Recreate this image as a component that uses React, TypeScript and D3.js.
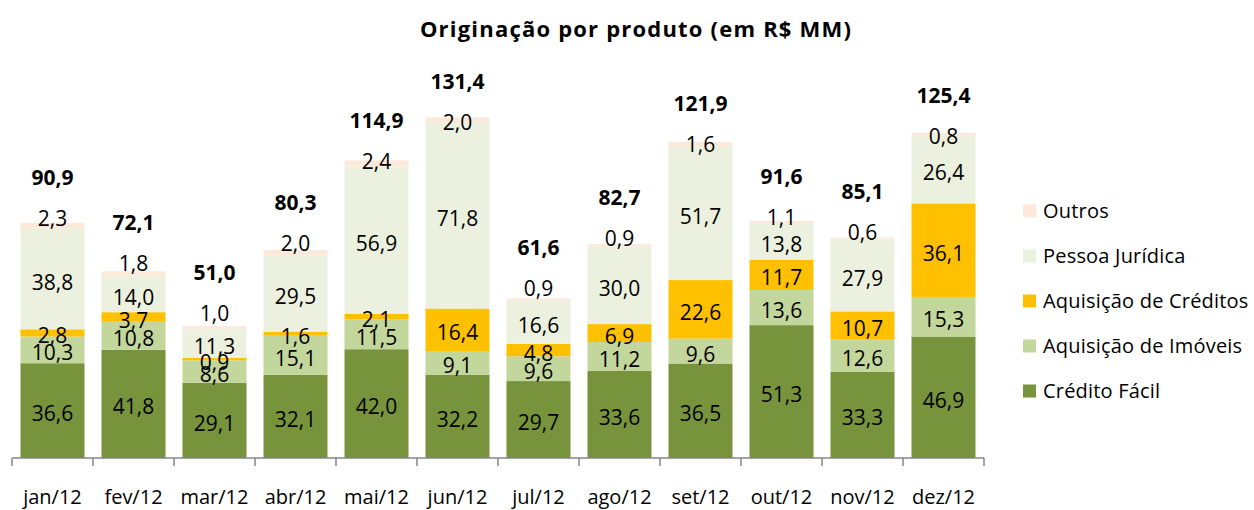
import React from 'react';
import * as d3 from 'd3';

// data
const months = ['jan/12', 'fev/12', 'mar/12', 'abr/12', 'mai/12', 'jun/12', 'jul/12', 'ago/12', 'set/12', 'out/12', 'nov/12', 'dez/12'];
const creditoFacil = [36.6, 41.8, 29.1, 32.1, 42.0, 32.2, 29.7, 33.6, 36.5, 51.3, 33.3, 46.9];
const aquisicaoImoveis = [10.3, 10.8, 8.6, 15.1, 11.5, 9.1, 9.6, 11.2, 9.6, 13.6, 12.6, 15.3];
const aquisicaoCreditos = [2.8, 3.7, 0.9, 1.6, 2.1, 16.4, 4.8, 6.9, 22.6, 11.7, 10.7, 36.1];
const pessoaJuridica = [38.8, 14.0, 11.3, 29.5, 56.9, 71.8, 16.6, 30.0, 51.7, 13.8, 27.9, 26.4];
const outros = [2.3, 1.8, 1.0, 2.0, 2.4, 2.0, 0.9, 0.9, 1.6, 1.1, 0.6, 0.8];
const totals = [90.9, 72.1, 51.0, 80.3, 114.9, 131.4, 61.6, 82.7, 121.9, 91.6, 85.1, 125.4];

const seriesNames = ['Crédito Fácil', 'Aquisição de Imóveis', 'Aquisição de Créditos', 'Pessoa Jurídica', 'Outros'];
const seriesValues = [creditoFacil, aquisicaoImoveis, aquisicaoCreditos, pessoaJuridica, outros];
const seriesColors = ['#77933C', '#C3D69B', '#FFC000', '#EBF1DE', '#FDE9D9'];

const fmt = (v: number) => v.toFixed(1).replace('.', ',');
const FONT = '"Open Sans", "Liberation Sans", sans-serif';

export default function App() {
    const width = 1254;
    const height = 510;

    // scales
    const x = d3.scaleBand<string>()
        .domain(months)
        .range([12, 984])
        .paddingInner(0.21)
        .paddingOuter(0.105);
    const y = d3.scaleLinear().domain([0, 140]).range([458, 458 - 140 * 2.59]);
    // labels on top of the bars sit on their own (secondary) scale
    const yLabel = d3.scaleLinear().domain([0, 140]).range([435, 435 - 140 * 2.38]);

    const rows = months.map((m, i) => {
        const obj: any = {month: m};
        seriesNames.forEach((s, j) => { obj[s] = seriesValues[j][i]; });
        return obj;
    });
    const stacked = d3.stack().keys(seriesNames)(rows);

    const step = x.step();
    const ticks = d3.range(months.length + 1).map((i) => 12 + i * step);
    const cx = (m: string) => (x(m) as number) + x.bandwidth() / 2;

    return (
        <svg width={width} height={height} style={{display: 'block', position: 'absolute', left: 0, top: 0}} fontFamily={FONT}>
            <rect width={width} height={height} fill="#fff" />
            <text x={636} y={29} textAnchor="middle" fontSize={22} fontWeight="bold" letterSpacing={1.2} dy="0.35em">
                Originação por produto (em R$ MM)
            </text>

            {/* bars */}
            {stacked.map((layer, j) => (
                <g key={layer.key} fill={seriesColors[j]}>
                    {layer.map((d, i) => (
                        <rect key={i}
                            x={x(months[i])}
                            y={y(d[1])}
                            width={x.bandwidth()}
                            height={y(d[0]) - y(d[1])} />
                    ))}
                </g>
            ))}

            {/* segment labels */}
            {stacked.slice(0, 4).map((layer, j) => (
                <g key={'l' + layer.key} fontSize={21} textAnchor="middle" fill="#000">
                    {layer.map((d, i) => (
                        <text key={i}
                            x={cx(months[i])}
                            y={(y(d[0]) + y(d[1])) / 2 + 3}
                            dy="0.36em">{fmt(seriesValues[j][i])}</text>
                    ))}
                </g>
            ))}

            {/* outros labels */}
            <g fontSize={21} textAnchor="middle" fill="#000">
                {outros.map((v, i) => (
                    <text key={i} x={cx(months[i])} y={yLabel(totals[i])} dy="0.36em">{fmt(v)}</text>
                ))}
            </g>

            {/* totals */}
            <g fontSize={21} fontWeight="bold" textAnchor="middle" fill="#000">
                {totals.map((v, i) => (
                    <text key={i} x={cx(months[i])} y={yLabel(totals[i]) - 41} dy="0.36em">{fmt(v)}</text>
                ))}
            </g>

            {/* axis */}
            <g stroke="#868686" strokeWidth={1.5}>
                <line x1={12} x2={984} y1={458} y2={458} />
                {ticks.map((t, i) => (
                    <line key={i} x1={t} x2={t} y1={458} y2={466} />
                ))}
            </g>
            <g fontSize={20} textAnchor="middle" fill="#000">
                {months.map((m) => (
                    <text key={m} x={cx(m)} y={497} dy="0.36em">{m}</text>
                ))}
            </g>

            {/* legend */}
            <g fontSize={20}>
                {seriesNames.slice().reverse().map((s, k) => {
                    const j = seriesNames.length - 1 - k;
                    const cy = 211 + k * 45;
                    return (
                        <g key={s}>
                            <rect x={1023} y={cy - 6.5} width={13} height={13} fill={seriesColors[j]} />
                            <text x={1043} y={cy} dy="0.36em" letterSpacing={0.2}>{s}</text>
                        </g>
                    );
                })}
            </g>
        </svg>
    );
}
